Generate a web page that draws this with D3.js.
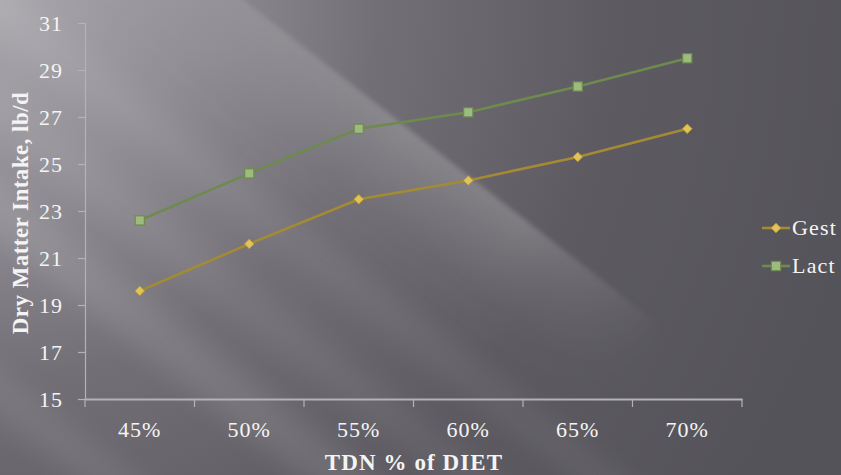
<!DOCTYPE html>
<html>
<head>
<meta charset="utf-8">
<script src="https://cdn.jsdelivr.net/npm/d3@7"></script>
<style>
  html, body { margin: 0; padding: 0; background: #5a585e; }
  svg { display: block; }
  text { font-family: "Palatino Linotype", "Book Antiqua", Palatino, "Liberation Serif", serif; }
</style>
</head>
<body>
<svg id="chart" width="841" height="475"></svg>
<script>
// TDN level of the diet (x categories)
const categories = ["45%", "50%", "55%", "60%", "65%", "70%"];
// Dry matter intake, lb/d
const gest = [19.6, 21.6, 23.5, 24.3, 25.3, 26.5];
const lact = [22.6, 24.6, 26.5, 27.2, 28.3, 29.5];
const yTicks = [15, 17, 19, 21, 23, 25, 27, 29, 31];
const seriesNames = ["Gest", "Lact"];

const W = 841, H = 475;
const margin = { left: 85, right: 99, top: 23, bottom: 76 };
const svg = d3.select("#chart");

// ---- background: dark slate with soft diagonal light streaks ----
const defs = svg.append("defs");
const bg = defs.append("radialGradient").attr("id", "bgGrad")
  .attr("gradientUnits", "userSpaceOnUse")
  .attr("cx", 0).attr("cy", 0).attr("r", 900);
bg.append("stop").attr("offset", "0%").attr("stop-color", "#aba9ae");
bg.append("stop").attr("offset", "20%").attr("stop-color", "#929096");
bg.append("stop").attr("offset", "42%").attr("stop-color", "#727076");
bg.append("stop").attr("offset", "68%").attr("stop-color", "#5d5b61");
bg.append("stop").attr("offset", "100%").attr("stop-color", "#55535a");
svg.append("rect").attr("width", W).attr("height", H).attr("fill", "url(#bgGrad)");

function blurFilter(id, sd) {
  const f = defs.append("filter").attr("id", id)
    .attr("x", "-50%").attr("y", "-50%").attr("width", "200%").attr("height", "200%");
  f.append("feGaussianBlur").attr("stdDeviation", sd);
}
blurFilter("soft", 12);
blurFilter("softS", 2.5);

// main light band: crisp upper edge, fading downward
const bandGrad = defs.append("linearGradient").attr("id", "bandGrad")
  .attr("x1", 0).attr("y1", 0).attr("x2", 0).attr("y2", 1);
bandGrad.append("stop").attr("offset", "0%").attr("stop-color", "#fff").attr("stop-opacity", 0.2);
bandGrad.append("stop").attr("offset", "25%").attr("stop-color", "#fff").attr("stop-opacity", 0.13);
bandGrad.append("stop").attr("offset", "65%").attr("stop-color", "#fff").attr("stop-opacity", 0.03);
bandGrad.append("stop").attr("offset", "100%").attr("stop-color", "#fff").attr("stop-opacity", 0);
// fade of the band along its length
const alongGrad = defs.append("linearGradient").attr("id", "alongGrad")
  .attr("gradientUnits", "userSpaceOnUse")
  .attr("x1", 0).attr("y1", 0).attr("x2", 1000).attr("y2", 0);
alongGrad.append("stop").attr("offset", "10%").attr("stop-color", "#fff").attr("stop-opacity", 0.35);
alongGrad.append("stop").attr("offset", "40%").attr("stop-color", "#fff").attr("stop-opacity", 1);
alongGrad.append("stop").attr("offset", "55%").attr("stop-color", "#fff").attr("stop-opacity", 1);
alongGrad.append("stop").attr("offset", "73%").attr("stop-color", "#fff").attr("stop-opacity", 0);
alongGrad.append("stop").attr("offset", "100%").attr("stop-color", "#fff").attr("stop-opacity", 0);
const mask = defs.append("mask").attr("id", "alongMask").attr("maskUnits", "userSpaceOnUse")
  .attr("x", -400).attr("y", -600).attr("width", 1600).attr("height", 1400);
mask.append("rect").attr("x", -400).attr("y", -600).attr("width", 1600).attr("height", 1400)
  .attr("fill", "url(#alongGrad)");

const sg = svg.append("g").attr("transform", "rotate(38)");
sg.append("rect").attr("x", -200).attr("width", 1400)
  .attr("y", -150).attr("height", 130)
  .attr("fill", "url(#bandGrad)").attr("filter", "url(#softS)")
  .attr("mask", "url(#alongMask)");

// secondary faint streaks, offset perpendicular to the band direction
const streaks = [
  { v: -10, w: 35, o: 0.05 },
  { v: 70, w: 35, o: 0.05 },
  { v: 145, w: 45, o: 0.09 },
  { v: 290, w: 40, o: 0.07 }
];
sg.selectAll("rect.streak").data(streaks).join("rect").attr("class", "streak")
  .attr("x", -600).attr("width", 1800)
  .attr("y", d => d.v).attr("height", d => d.w)
  .attr("fill", "#ffffff").attr("opacity", d => d.o)
  .attr("filter", "url(#soft)");

// ---- scales ----
const x = d3.scaleBand().domain(categories).range([margin.left, W - margin.right]);
const y = d3.scaleLinear().domain([15, 31]).range([H - margin.bottom, margin.top]);
const axisColor = "#b4b2b8";
const labelColor = "#f4f4f4";
const serif = "'Palatino Linotype','Book Antiqua','Liberation Serif',serif";

// y axis
const yAxis = svg.append("g").attr("transform", `translate(${margin.left},0)`)
  .call(d3.axisLeft(y).tickValues(yTicks).tickSize(7).tickPadding(15).tickFormat(d3.format("d")));
yAxis.select(".domain").attr("stroke", axisColor).attr("stroke-width", 1.2);
yAxis.selectAll(".tick line").attr("stroke", axisColor).attr("stroke-width", 1.2);
yAxis.selectAll(".tick text").attr("fill", labelColor).attr("font-size", 22)
  .attr("letter-spacing", 1).style("font-family", serif);

// x axis
const xAxis = svg.append("g").attr("transform", `translate(0,${H - margin.bottom})`)
  .call(d3.axisBottom(x).tickSize(0).tickPadding(22));
xAxis.select(".domain").attr("stroke", axisColor).attr("stroke-width", 2);
xAxis.selectAll(".tick text").attr("fill", labelColor).attr("font-size", 22)
  .attr("letter-spacing", 1).style("font-family", serif);
// category boundary ticks
const bounds = categories.map(c => x(c)).concat([x(categories[categories.length - 1]) + x.bandwidth()]);
svg.append("g").selectAll("line").data(bounds).join("line")
  .attr("x1", d => d).attr("x2", d => d)
  .attr("y1", H - margin.bottom).attr("y2", H - margin.bottom + 8)
  .attr("stroke", axisColor).attr("stroke-width", 1.2);

// axis titles
svg.append("text")
  .attr("transform", `translate(28,213) rotate(-90)`)
  .attr("text-anchor", "middle").attr("fill", labelColor)
  .attr("font-size", 23).attr("font-weight", "bold").attr("letter-spacing", 0.45)
  .text("Dry Matter Intake, lb/d");
svg.append("text")
  .attr("x", 414).attr("y", 470)
  .attr("text-anchor", "middle").attr("fill", labelColor)
  .attr("font-size", 23).attr("font-weight", "bold").attr("letter-spacing", 1.1)
  .text("TDN % of DIET");

// ---- series ----
const cx = i => x(categories[i]) + x.bandwidth() / 2;
const line = d3.line().x((d, i) => cx(i)).y(d => y(d));

const styles = {
  Gest: { line: "#a48b33", fill: "#e2c35a", stroke: "#b89b3a" },
  Lact: { line: "#6e8a4e", fill: "#9dbb7e", stroke: "#6e8a4e" }
};

function diamond(g, px, py, s, st) {
  g.append("path")
    .attr("d", `M${px},${py - s}L${px + s},${py}L${px},${py + s}L${px - s},${py}Z`)
    .attr("fill", st.fill).attr("stroke", st.stroke).attr("stroke-width", 1);
}
function square(g, px, py, s, st) {
  g.append("rect")
    .attr("x", px - s).attr("y", py - s).attr("width", 2 * s).attr("height", 2 * s)
    .attr("fill", st.fill).attr("stroke", st.stroke).attr("stroke-width", 1.2);
}

const gl = svg.append("g");
gl.append("path").datum(lact).attr("d", line).attr("fill", "none")
  .attr("stroke", styles.Lact.line).attr("stroke-width", 2.6);
gl.append("path").datum(gest).attr("d", line).attr("fill", "none")
  .attr("stroke", styles.Gest.line).attr("stroke-width", 2.6);
lact.forEach((v, i) => square(gl, cx(i), y(v), 4.6, styles.Lact));
gest.forEach((v, i) => diamond(gl, cx(i), y(v), 4.8, styles.Gest));

// ---- legend ----
const legend = svg.append("g");
const legendY = [228, 266];
seriesNames.forEach((name, i) => {
  const st = styles[name];
  const ly = legendY[i];
  legend.append("line").attr("x1", 762).attr("x2", 790).attr("y1", ly).attr("y2", ly)
    .attr("stroke", st.line).attr("stroke-width", 2.6);
  if (name === "Gest") diamond(legend, 776, ly, 4.8, st);
  else square(legend, 776, ly, 4.6, st);
  legend.append("text").attr("x", 792).attr("y", ly + 7)
    .attr("fill", labelColor).attr("font-size", 22).attr("letter-spacing", 1.2).text(name);
});
</script>
</body>
</html>
